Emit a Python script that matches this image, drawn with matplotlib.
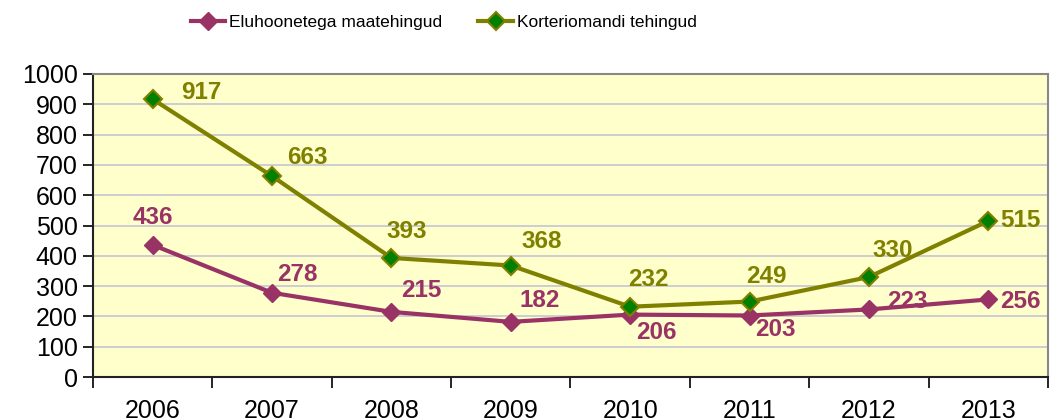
import matplotlib
matplotlib.use("Agg")
import matplotlib.pyplot as plt

plt.rcParams["font.family"] = ["Liberation Sans", "DejaVu Sans"]

aastad = ["2006", "2007", "2008", "2009", "2010", "2011", "2012", "2013"]
eluhooned = [436, 278, 215, 182, 206, 203, 223, 256]
korterid = [917, 663, 393, 368, 232, 249, 330, 515]

# silte nihe pikslites (dx, dy, ha)
nihe_elu = [(0, 27, "center"), (5, 18, "left"), (10, 21, "left"), (9, 21, "left"),
            (6, -18, "left"), (6, -14, "left"), (18, 8, "left"), (12, -2, "left")]
nihe_kor = [(29, 7, "left"), (15, 19, "left"), (-5, 26, "left"), (11, 24, "left"),
            (-2, 27, "left"), (-3, 25, "left"), (4, 27, "left"), (12, 0, "left")]

roosa = "#993366"
oliiv = "#808000"

fig = plt.figure(figsize=(10.56, 4.19), dpi=100)
ax = fig.add_axes([0.088, 0.1002, 0.9044, 0.7232])
ax.set_facecolor("#ffffcc")

x = list(range(len(aastad)))
ax.plot(x, eluhooned, color=roosa, lw=3, marker="D", ms=9, mfc=roosa, mec=roosa,
        label="Eluhoonetega maatehingud", zorder=3)
ax.plot(x, korterid, color=oliiv, lw=3, marker="D", ms=9, mfc="#008000", mec=oliiv,
        mew=1.5, label="Korteriomandi tehingud", zorder=3)

for i, v in enumerate(eluhooned):
    dx, dy, ha = nihe_elu[i]
    ax.annotate(str(v), (i, v), xytext=(dx, dy), textcoords="offset pixels",
                ha=ha, va="center", color=roosa, fontsize=17.5, fontweight="bold",
                zorder=4, annotation_clip=False)
for i, v in enumerate(korterid):
    dx, dy, ha = nihe_kor[i]
    ax.annotate(str(v), (i, v), xytext=(dx, dy), textcoords="offset pixels",
                ha=ha, va="center", color=oliiv, fontsize=17.5, fontweight="bold",
                zorder=4, annotation_clip=False)

ax.set_xlim(-0.5, len(aastad) - 0.5)
ax.set_ylim(0, 1000)
ax.set_yticks(range(0, 1001, 100))
ax.yaxis.grid(True, color="#c4c4d4", lw=1.2)
ax.set_axisbelow(True)

ax.set_xticks([i - 0.5 for i in range(len(aastad) + 1)])
ax.set_xticklabels([])
ax.set_xticks(x, minor=True)
ax.set_xticklabels(aastad, minor=True)
ax.tick_params(axis="x", which="major", length=8, width=1.2, direction="out")
ax.tick_params(axis="x", which="minor", length=0, pad=16, labelsize=18)
ax.tick_params(axis="y", length=7, width=1.2, direction="out", labelsize=18, pad=4)

for s in ["left", "bottom"]:
    ax.spines[s].set_color("#222222")
    ax.spines[s].set_linewidth(1.5)
for s in ["top", "right"]:
    ax.spines[s].set_color("#888888")
    ax.spines[s].set_linewidth(1.5)

fig.legend(loc="center", bbox_to_anchor=(0.42, 0.947), ncol=2, frameon=False,
           fontsize=12.5, handlelength=2.0, columnspacing=2.1, handletextpad=0.2)

fig.savefig("out.png", dpi=100)
